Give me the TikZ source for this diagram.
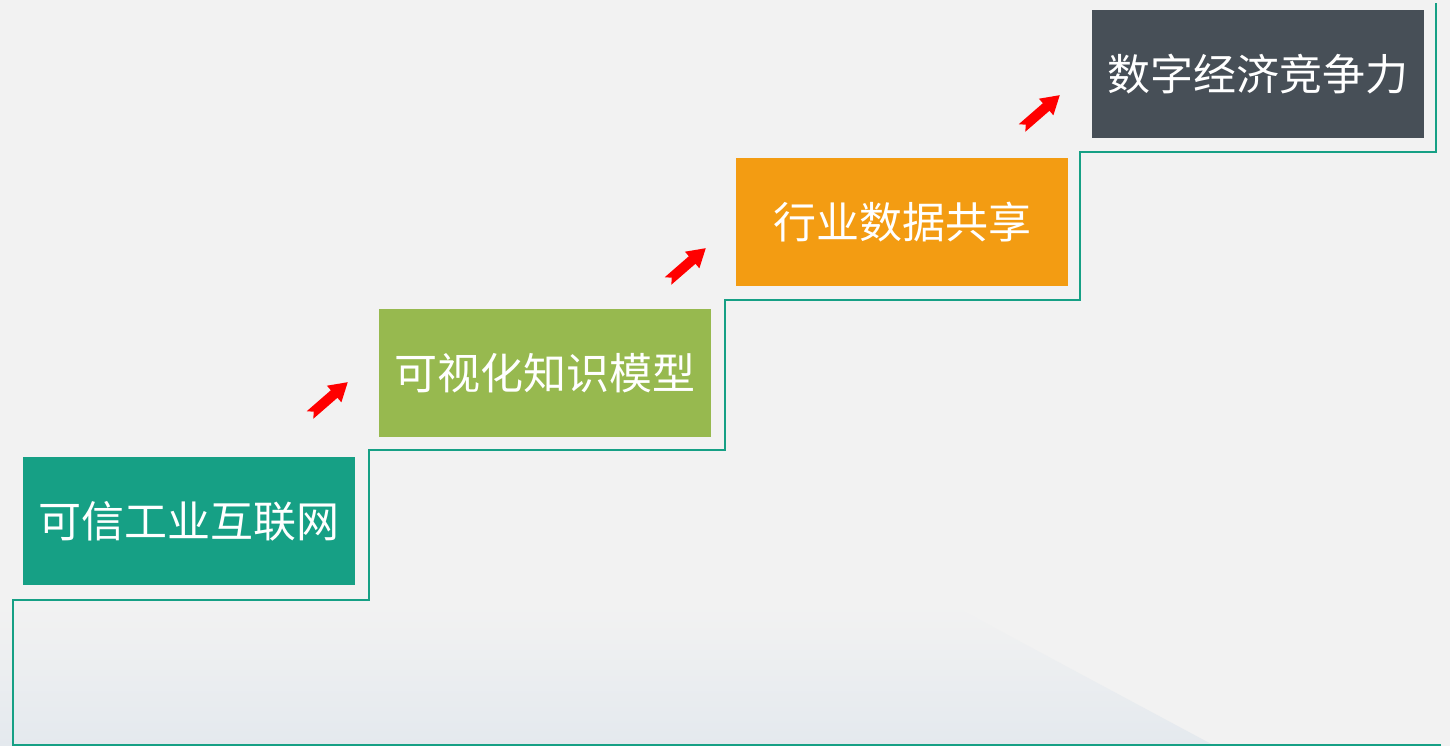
\documentclass[tikz,border=0pt]{standalone}
\usepackage{fontspec}
\newfontfamily\cjk{Noto Sans CJK SC}
\usetikzlibrary{positioning}
\definecolor{stteal}{HTML}{16A085}
\definecolor{stgreen}{HTML}{97B94F}
\definecolor{storange}{HTML}{F39C12}
\definecolor{stdark}{HTML}{474F57}
\definecolor{stbg}{HTML}{F2F2F2}
\definecolor{stshade}{HTML}{E4E9EE}
\definecolor{stred}{HTML}{FF0000}

\begin{document}
\begin{tikzpicture}[
  x=1pt, y=-1pt,
  stage/.style={rectangle, minimum width=332pt, minimum height=128pt, inner sep=0pt, text=white, font=\cjk\fontsize{43}{50}\selectfont},
  stair/.style={stteal, line width=2pt},
  uparrow/.style={fill=stred, draw=none},
]

% Background
\fill[stbg] (0,0) rectangle (1450,746);
\shade[top color=stbg, bottom color=stshade] (0,604) -- (950,604) -- (1215,746) -- (0,746) -- cycle;
\useasboundingbox (0,0) rectangle (1450,746);

% Stages
\node[stage, fill=stteal] (trust) at (189,521) {可信工业互联网};
\node[stage, fill=stgreen] (model) at (545,373) {可视化知识模型};
\node[stage, fill=storange] (share) at (902,222) {行业数据共享};
\node[stage, fill=stdark] (compete) at (1258,74) {数字经济竞争力};

% Stair line
\draw[stair] (1441,745) -- (13,745) -- (13,600) -- (369,600) -- (369,450) -- (725,450)
  -- (725,300) -- (1080,300) -- (1080,152) -- (1436,152) -- (1436,3);

% Arrows
\foreach \ax/\ay in {310/415, 668/281, 1022/128}
  \fill[uparrow, shift={(\ax,\ay)}, rotate=41]
    (0,-5) -- (32,-5) -- (32,-11) -- (50,0) -- (32,11) -- (32,5) -- (0,5) -- (5,0) -- cycle;

\end{tikzpicture}
\end{document}
